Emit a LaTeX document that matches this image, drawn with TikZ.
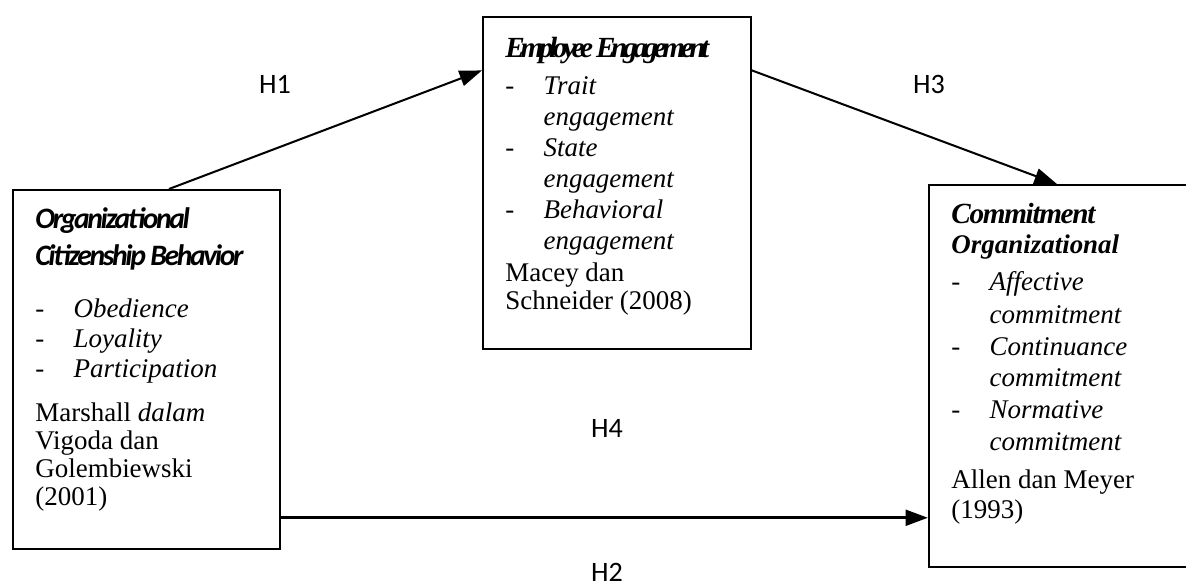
\documentclass[tikz,border=0pt]{standalone}
\usepackage{fontspec}
\setmainfont{Liberation Serif}
\newfontfamily\hypfont{Carlito}
\newfontfamily\ocbfont{Carlito}[LetterSpace=-8]
\newfontfamily\tightserif{Liberation Serif}[LetterSpace=-15]
\newfontfamily\semiserif{Liberation Serif}[LetterSpace=-4.5]
\usetikzlibrary{arrows.meta,calc}
\newcommand{\itm}[1]{\makebox[17pt][l]{-}\textit{#1}}
\newcommand{\itmc}[1]{\hspace*{17pt}\textit{#1}}
\tikzset{
  varbox/.style={draw, line width=0.8pt, anchor=north west, inner xsep=10pt, inner ysep=0pt,
    font=\fontsize{12}{12}\selectfont},
  hyp/.style={font=\hypfont\fontsize{12.5}{14}\selectfont},
  link/.style={-{Triangle[length=10pt,width=7pt]}, line width=0.9pt},
}
\begin{document}
\begin{tikzpicture}[x=0.445pt,y=-0.445pt]
        \clip (0,0) rectangle (1186,585);
        % Define the variable boxes
        \node[varbox] (ocb) at (12,189) {\parbox[c][159.8pt][t]{98.8pt}{\raggedright
            \rule{0pt}{17.2pt}{\ocbfont\fontsize{13.2}{13.2}\selectfont\bfseries\itshape Organizational}\\[4.6pt]
            {\ocbfont\fontsize{13.2}{13.2}\selectfont\bfseries\itshape Citizenship Behavior}\\[11pt]
            \itm{Obedience}\\[1.35pt]
            \itm{Loyality}\\[1.35pt]
            \itm{Participation}\\[7.6pt]
            Marshall \textit{dalam}\\[0.5pt]
            Vigoda dan\\[0.5pt]
            Golembiewski\\[0.5pt]
            (2001)}};
        \node[varbox] (ee) at (482,16) {\parbox[c][147.7pt][t]{99.3pt}{\raggedright
            \rule{0pt}{18.1pt}{\tightserif\fontsize{13}{13}\selectfont\bfseries\itshape Employee Engagement}\\[4.3pt]
            \itm{Trait}\\[1.8pt]
            \itmc{engagement}\\[1.8pt]
            \itm{State}\\[1.8pt]
            \itmc{engagement}\\[1.8pt]
            \itm{Behavioral}\\[1.8pt]
            \itmc{engagement}\\[2.5pt]
            Macey dan\\[0.5pt]
            Schneider (2008)}};
        \node[varbox] (co) at (928,184) {\parbox[c][170pt][t]{97.5pt}{\raggedright
            \rule{0pt}{17.2pt}{\semiserif\fontsize{13}{13}\selectfont\bfseries\itshape Commitment}\\[1.35pt]
            {\bfseries\itshape Organizational}\\[4.3pt]
            \itm{Affective}\\[2.8pt]
            \itmc{commitment}\\[2.1pt]
            \itm{Continuance}\\[2.1pt]
            \itmc{commitment}\\[2.1pt]
            \itm{Normative}\\[2.1pt]
            \itmc{commitment}\\[5pt]
            Allen dan Meyer\\[1.35pt]
            (1993)}};
        % Hypothesis labels
        \node[hyp] (h1) at (275,84) {H1};
        \node[hyp] (h3) at (929,84) {H3};
        \node[hyp] (h4) at (607,428) {H4};
        \node[hyp] (h2) at (607,572) {H2};
        % Connect the boxes
        \draw[link] ($(ocb.north west)!0.584!(ocb.north east)$) -- ($(ee.north west)!0.163!(ee.south west)$);
        \draw[link] ($(ee.north east)!0.163!(ee.south east)$) -- ($(co.north west)!0.485!(co.north east)$);
        \coordinate (h2start) at ($(ocb.north east)!0.911!(ocb.south east)$);
        \draw[link, line width=1.4pt] (h2start) -- (h2start -| co.west);
    \end{tikzpicture}
\end{document}
